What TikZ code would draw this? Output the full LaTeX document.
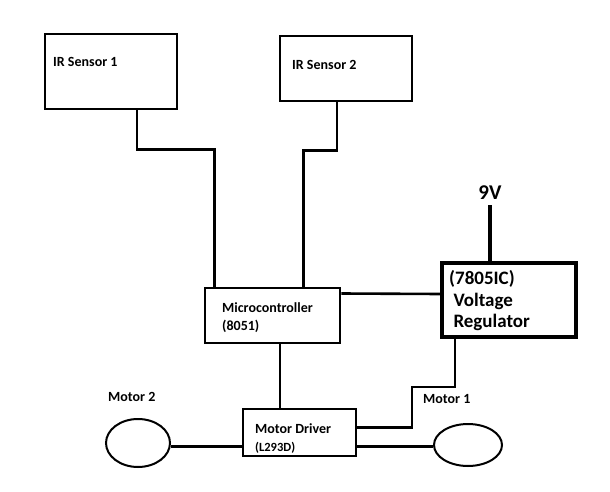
\documentclass[tikz,border=0pt]{standalone}
\usepackage{fontspec}
\setmainfont{Carlito}
\usetikzlibrary{positioning,calc,shapes.geometric}

\begin{document}
\begin{tikzpicture}[x=1pt,y=-1pt,
                    ckt block/.style={rectangle, draw, line width=2.6pt, inner sep=0pt},
                    ckt motor/.style={ellipse, draw, line width=2pt, inner sep=0pt},
                    ckt text/.style={anchor=west, font=\fontsize{14}{18}\selectfont\bfseries, align=left, inner sep=0pt},
                    ckt big/.style={anchor=west, font=\fontsize{19}{21.5}\selectfont\bfseries, align=left, inner sep=0pt},
                    ckt wire/.style={line width=2.6pt}]

    \useasboundingbox (0,0) rectangle (610,492);

    % blocks
    \node [ckt block, minimum width=132pt, minimum height=75pt] (ir1) at (111,71.5) {};
    \node [ckt block, minimum width=132pt, minimum height=65pt] (ir2) at (346,68.5) {};
    \node [ckt block, minimum width=135pt, minimum height=55pt] (mcu) at (272.5,315.5) {};
    \node [ckt block, line width=4.2pt, minimum width=134pt, minimum height=74pt] (reg) at (509,300) {};
    \node [ckt block, minimum width=113pt, minimum height=47pt] (drv) at (299.5,432.5) {};
    \node [ckt motor, minimum width=64pt, minimum height=48pt] (m2) at (138,443) {};
    \node [ckt motor, minimum width=68pt, minimum height=42pt] (m1) at (468,445) {};

    % texts
    \node [ckt text] (ir1txt) at (53,62) {IR Sensor 1};
    \node [ckt text] (ir2txt) at (292,65) {IR Sensor 2};
    \node [ckt text] (mcutxt) at (222,318) {Microcontroller\\(8051)};
    \node [ckt big] (regtxt) at (449,301) {(7805IC)\\\ Voltage\\\ Regulator};
    \node [ckt text] (drvtxt) at (255,439) {Motor Driver\\{\fontsize{12.5}{14}\selectfont(L293D)}};
    \node [ckt text] (m2txt) at (108,397) {Motor 2};
    \node [ckt text] (m1txt) at (423,399) {Motor 1};
    \node [font=\fontsize{21}{22}\selectfont\bfseries, inner sep=0pt] (vin) at (490,193) {9V};

    % wires
    \draw [ckt wire] ([xshift=26pt]ir1.south) -- ++(0,39) -| ([xshift=-58pt]mcu.north);
    \draw [ckt wire] ([xshift=-9pt]ir2.south) -- ++(0,48) -| ([xshift=31pt]mcu.north);
    \draw [ckt wire] ([yshift=22pt]mcu.east) -- ([yshift=6pt]reg.west);
    \draw [ckt wire] ([xshift=7.5pt]mcu.south) coordinate (mcuout) -- (mcuout |- drv.north);
    \draw [ckt wire, line width=4.2pt] ([yshift=-5pt]vin.south) -- (reg.north -| vin);
    \draw [ckt wire] ([xshift=-54pt]reg.south) -- ++(0,48) -- ++(-43,0) |- ([yshift=5pt]drv.east);
    \draw [ckt wire] ([yshift=-14pt]drv.east) -- (m1.west |- {$(drv.east)+(0,14)$});
    \draw [ckt wire] ([yshift=-14pt]drv.west) -- (m2.east |- {$(drv.west)+(0,14)$});

\end{tikzpicture}
\end{document}
